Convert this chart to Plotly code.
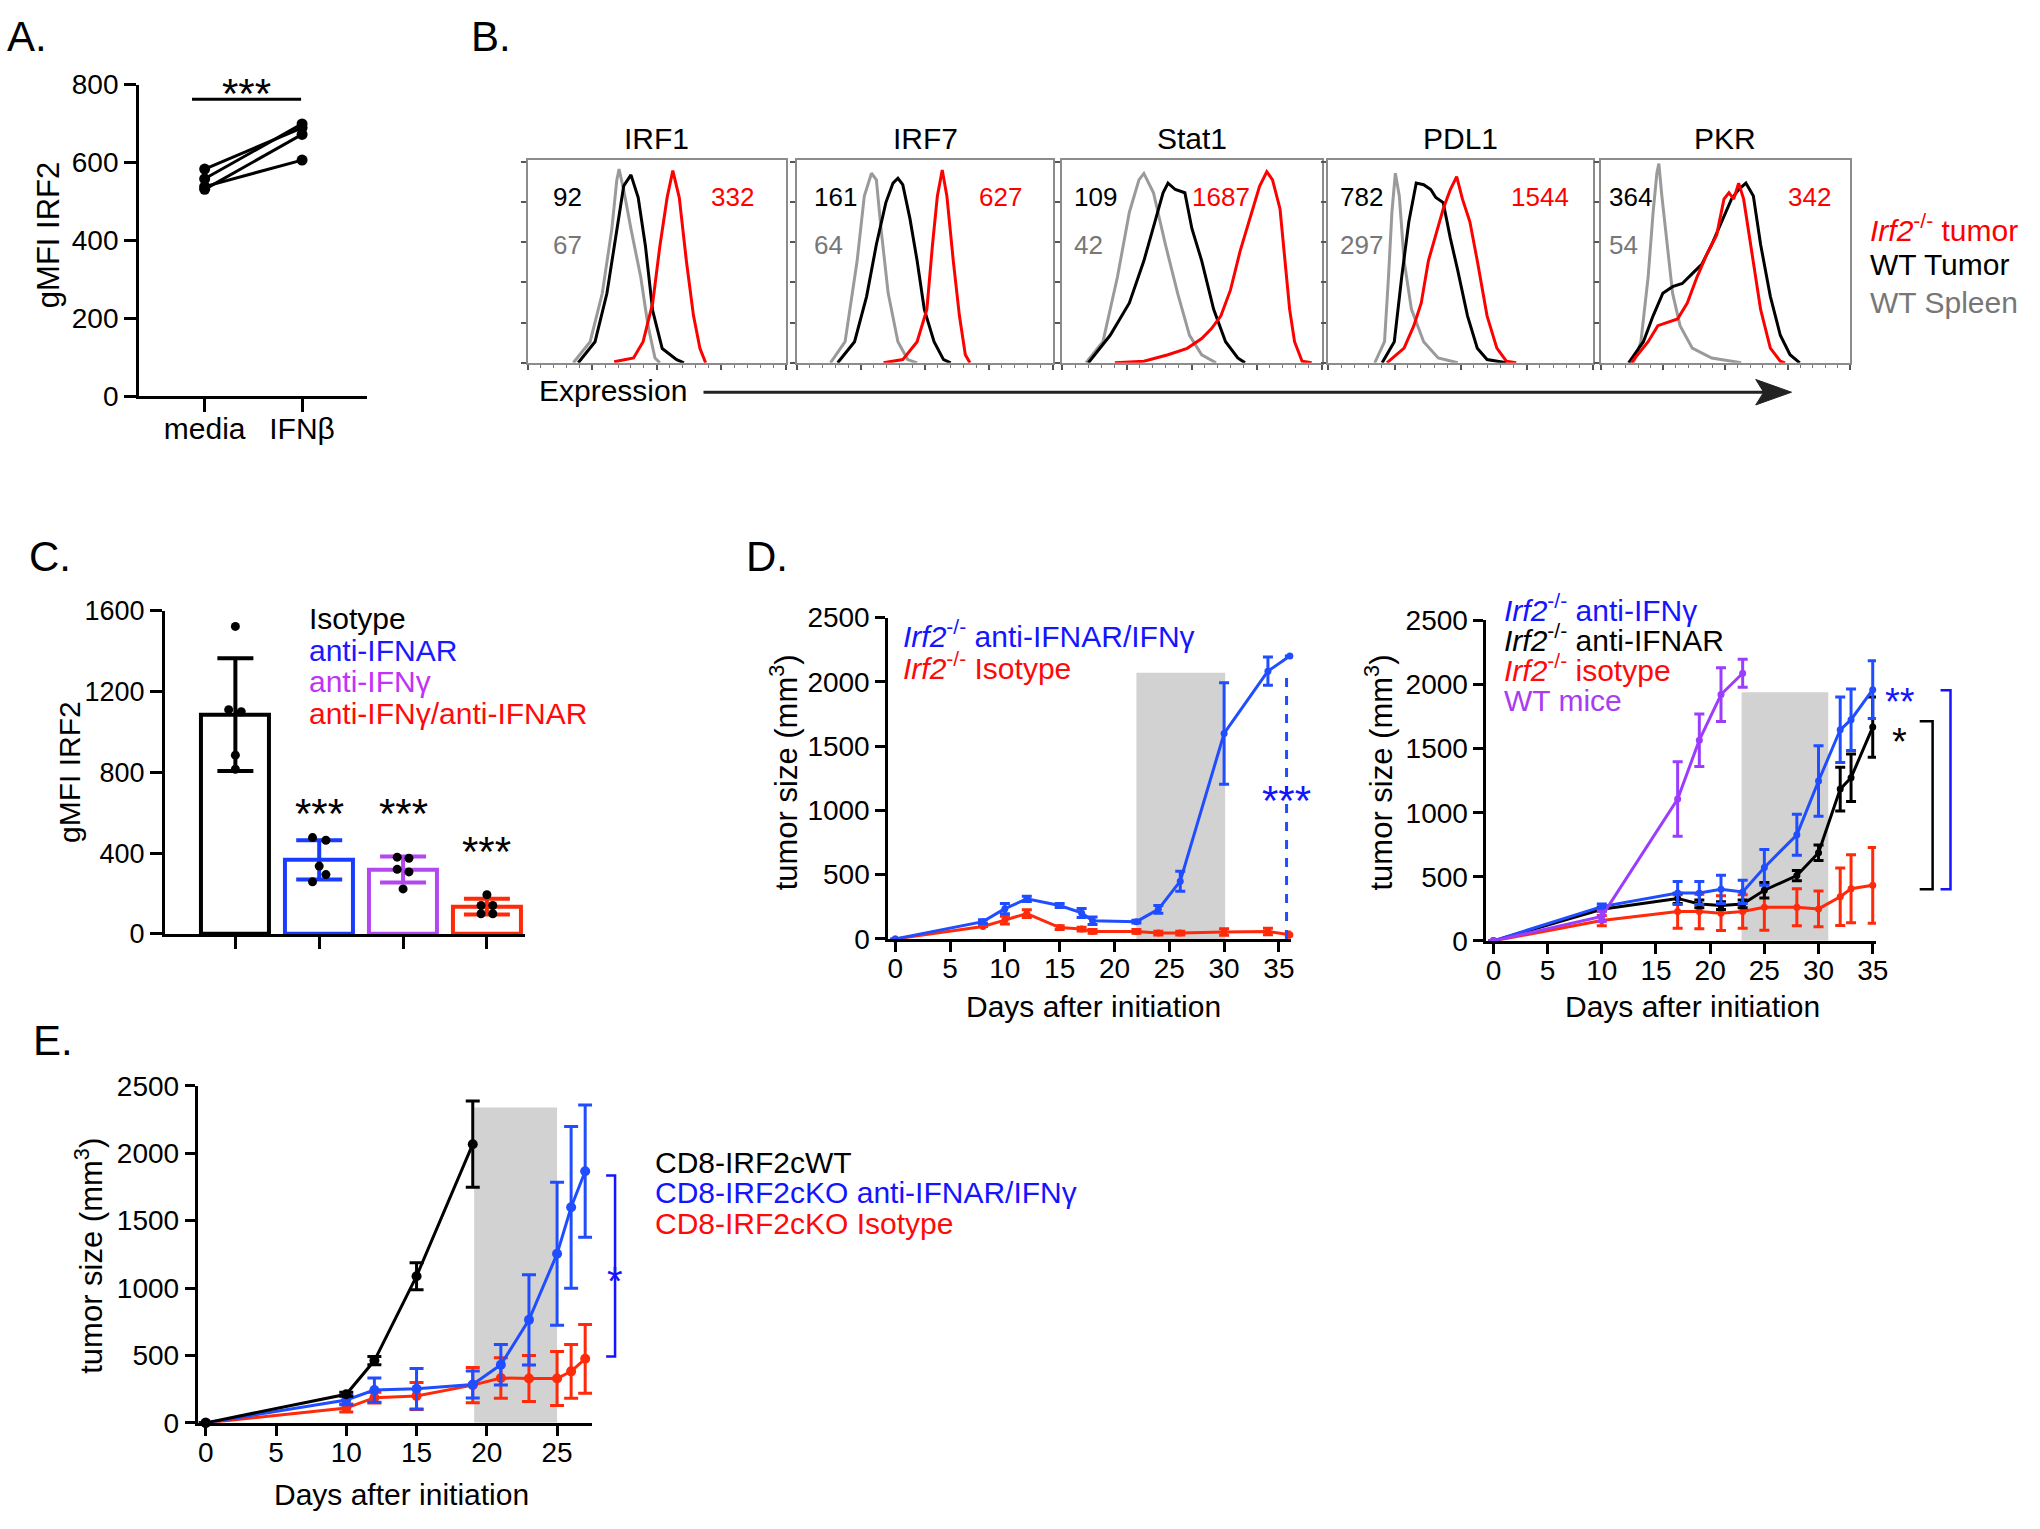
import plotly.graph_objects as go

W, H = 2040, 1529
FONT = "Arial, 'Liberation Sans', Helvetica, sans-serif"

# ======================= DATA =======================
# Panel A
a_categories = ["media", "IFNβ"]
a_media = [583, 558, 538, 531]
a_ifnb = [689, 699, 606, 672]

# Panel B (flow histograms: x = log channel 0-100, y = % of max)
hist_titles = ["IRF1", "IRF7", "Stat1", "PDL1", "PKR"]
mfi_irf2ko = [332, 627, 1687, 1544, 342]
mfi_wt_tumor = [92, 161, 109, 782, 364]
mfi_wt_spleen = [67, 64, 42, 297, 54]

irf1_spleen_x = [17.7, 24.2, 28.9, 32.6, 34.5, 35.4, 37.2, 40.0, 43.8, 46.6, 49.3, 51.2]
irf1_spleen_y = [0, 10.5, 34.6, 66.7, 90.8, 96.5, 86.0, 66.7, 42.6, 18.5, 2.4, 0]
irf1_tumor_x = [19.6, 26.1, 30.7, 34.5, 37.2, 40.0, 42.8, 45.6, 48.4, 52.1, 57.7, 60.5]
irf1_tumor_y = [0, 10.5, 34.6, 66.7, 88.1, 93.6, 82.3, 58.2, 26.0, 7.1, 1.6, 0]
irf1_ko_x = [33.5, 41.0, 44.7, 48.4, 51.2, 54.0, 56.2, 58.7, 61.5, 64.2, 66.7, 68.9]
irf1_ko_y = [0.5, 2.4, 10.5, 29.7, 58.2, 82.3, 95.7, 82.3, 50.2, 23.5, 7.2, 0]

irf7_spleen_x = [13.1, 18.8, 23.5, 26.3, 29.1, 31.0, 32.8, 35.6, 39.4, 43.2, 46.9]
irf7_spleen_y = [0, 10.5, 50.8, 83.1, 94.4, 91.1, 66.9, 34.7, 10.5, 1.6, 0]
irf7_tumor_x = [15.9, 22.5, 27.2, 31.0, 34.7, 37.5, 39.4, 41.3, 44.1, 46.9, 49.7, 53.5, 57.2, 60.0]
irf7_tumor_y = [0, 10.5, 33.1, 58.9, 79.8, 89.5, 91.9, 88.7, 71.8, 50.8, 26.6, 10.5, 1.6, 0]
irf7_ko_x = [33.8, 41.3, 46.9, 50.7, 52.9, 54.8, 56.7, 58.5, 61.0, 63.4, 65.7, 67.5]
irf7_ko_y = [0, 1.6, 10.5, 26.6, 58.9, 83.1, 96.0, 83.1, 50.8, 23.4, 4.0, 0]

stat1_spleen_x = [9.2, 15.7, 21.3, 25.9, 29.6, 31.5, 35.2, 39.8, 44.5, 49.1, 53.8, 59.3]
stat1_spleen_y = [0, 10.5, 42.7, 75.0, 91.1, 94.3, 84.7, 58.9, 34.7, 13.7, 4.0, 0]
stat1_tumor_x = [10.1, 18.5, 25.9, 31.5, 36.1, 38.9, 40.8, 43.6, 47.3, 50.0, 53.8, 58.4, 63.0, 67.7, 70.5]
stat1_tumor_y = [0, 13.7, 29.8, 50.8, 71.8, 84.7, 89.5, 86.3, 84.7, 66.9, 50.8, 26.6, 10.5, 2.4, 0]
stat1_ko_x = [20.3, 31.5, 40.8, 48.2, 53.8, 57.5, 61.2, 64.9, 68.6, 72.3, 76.1, 78.9, 81.1, 84.0, 85.9, 87.7, 89.6, 92.5, 96.2]
stat1_ko_y = [0, 0.8, 4.0, 7.2, 12.1, 16.9, 23.4, 36.3, 55.6, 71.8, 87.9, 95.2, 91.1, 76.6, 50.8, 26.6, 10.5, 0.8, 0]

pdl1_spleen_x = [17.5, 21.2, 22.7, 24.0, 25.3, 26.8, 28.6, 31.4, 36.0, 41.5, 48.9]
pdl1_spleen_y = [0, 10.5, 42.7, 75.0, 94.4, 83.1, 50.8, 26.6, 10.5, 2.4, 0]
pdl1_tumor_x = [20.3, 24.9, 27.7, 30.4, 33.2, 36.0, 38.7, 40.6, 43.4, 46.1, 48.9, 52.6, 56.3, 60.0, 67.3]
pdl1_tumor_y = [0, 10.5, 42.7, 70.2, 89.5, 88.7, 86.3, 82.3, 79.8, 62.1, 46.0, 23.4, 7.3, 1.6, 0]
pdl1_ko_x = [22.1, 28.6, 32.3, 35.1, 37.8, 40.6, 43.4, 46.1, 48.5, 50.7, 53.5, 56.3, 60.0, 63.7, 67.3, 71.0]
pdl1_ko_y = [0, 7.3, 18.5, 29.8, 50.8, 63.7, 76.6, 86.3, 92.7, 81.5, 70.2, 50.8, 23.4, 7.3, 0.8, 0]

pkr_spleen_x = [13.1, 16.1, 19.0, 21.0, 22.5, 23.3, 24.5, 26.5, 28.8, 31.8, 36.7, 44.5, 56.3]
pkr_spleen_y = [0, 10.5, 42.7, 75.0, 94.4, 99.2, 83.1, 58.9, 34.7, 18.5, 7.3, 2.4, 0]
pkr_tumor_x = [11.2, 17.1, 21.0, 24.9, 28.8, 32.7, 36.7, 40.6, 44.5, 48.4, 52.4, 55.3, 58.2, 61.2, 64.1, 68.0, 72.0, 75.9, 79.8]
pkr_tumor_y = [0, 10.5, 23.4, 34.7, 37.9, 39.5, 44.4, 49.2, 58.9, 70.2, 81.5, 86.3, 89.5, 83.1, 58.9, 33.1, 13.7, 4.0, 0]
pkr_ko_x = [12.2, 19.0, 22.9, 26.9, 30.8, 34.7, 38.6, 42.5, 46.5, 49.4, 51.4, 53.3, 55.3, 57.3, 60.2, 64.1, 68.0, 72.0, 73.9]
pkr_ko_y = [0, 10.5, 18.5, 20.2, 21.8, 29.8, 42.7, 54.0, 63.7, 81.5, 84.7, 81.5, 89.5, 81.5, 58.9, 26.6, 7.3, 0.8, 0]

# Panel C
c_groups = ["Isotype", "anti-IFNAR", "anti-IFNγ", "anti-IFNγ/anti-IFNAR"]
c_means = [1086, 367, 319, 135]
c_sd = [279, 97, 64, 39]
c_pts_isotype = [1522, 1110, 1100, 885, 815]
c_pts_ifnar = [477, 464, 336, 294, 258]
c_pts_ifng = [380, 375, 320, 307, 223]
c_pts_both = [194, 141, 141, 100, 100]

# Panel D (left)
d1_days = [0, 8, 10, 12, 15, 17, 18, 22, 24, 26, 30, 34, 36]
d1_block = [0, 134, 235, 311, 260, 202, 141, 134, 230, 449, 1598, 2083, 2200]
d1_block_err = [0, 15, 40, 20, 15, 35, 30, 10, 30, 78, 395, 110, 0]
d1_iso = [0, 96, 146, 197, 88, 76, 58, 58, 45, 45, 53, 58, 33]
d1_iso_err = [0, 0, 30, 30, 15, 15, 15, 15, 15, 15, 25, 25, 20]
d1_window = [22.0, 30.1]
d1_window_top = 2070

# Panel D (right)
d2_days = [0, 10, 17, 19, 21, 23, 25, 28, 30, 32, 33, 35]
d2_ifng = [0, 267, 374, 374, 402, 382, 573, 827, 1247, 1647, 1726, 1960]
d2_ifng_err = [0, 20, 90, 90, 110, 90, 140, 160, 275, 255, 240, 225]
d2_ifnar = [0, 247, 331, 288, 275, 288, 395, 509, 687, 1184, 1273, 1668]
d2_ifnar_err = [0, 15, 40, 30, 30, 30, 60, 40, 60, 170, 185, 235]
d2_iso = [0, 158, 229, 229, 216, 229, 262, 262, 249, 344, 407, 433]
d2_iso_err = [0, 40, 130, 135, 135, 130, 180, 145, 140, 225, 265, 295]
d2_wt_days = [0, 10, 17, 19, 21, 23]
d2_wt = [0, 191, 1107, 1566, 1922, 2088]
d2_wt_err = [0, 40, 290, 205, 210, 110]
d2_window = [22.9, 30.9]
d2_window_top = 1940

# Panel E
e_wt_days = [0, 10, 12, 15, 19]
e_wt = [0, 212, 462, 1088, 2067]
e_wt_err = [0, 15, 30, 100, 320]
e_ko_days = [0, 10, 12, 15, 19, 21, 23, 25, 26, 27]
e_ko_block = [0, 170, 243, 253, 285, 431, 764, 1254, 1599, 1867]
e_ko_block_err = [0, 35, 90, 150, 100, 150, 335, 530, 600, 490]
e_ko_iso = [0, 110, 187, 200, 280, 333, 329, 329, 382, 475]
e_ko_iso_err = [0, 30, 40, 100, 130, 150, 170, 200, 200, 255]
e_window = [19.1, 25.0]
e_window_top = 2340

# ======================= STYLE / LAYOUT =======================
BLUE = "#1f4dff"
BLUE_TXT = "#1414ff"
RED = "#ff2a0a"
RED_TXT = "#ff0a0a"
PURPLE_LINE = "#9b3cff"
PURPLE_BAR = "#b347f0"
PURPLE_TXT = "#a93cf0"
SHADE = "#d2d2d2"
HGRAY = "#9a9a9a"
NGRAY = "#777777"

# axis boxes in pixels: x0, x1, ytop, ybot, xrange, yrange
geo = {
    1: dict(x0=139, x1=368, ytop=71, ybot=389, xr=[-0.673, 1.663], yr=[0, 800]),
    2: dict(x0=530, x1=790, ytop=148, ybot=355, xr=[0, 100], yr=[0, 101]),
    3: dict(x0=801, x1=1059, ytop=148, ybot=355, xr=[0, 100], yr=[0, 101]),
    4: dict(x0=1068, x1=1329, ytop=148, ybot=355, xr=[0, 100], yr=[0, 101]),
    5: dict(x0=1336, x1=1602, ytop=148, ybot=355, xr=[0, 100], yr=[0, 101]),
    6: dict(x0=1610, x1=1861, ytop=148, ybot=355, xr=[0, 100], yr=[0, 101]),
    7: dict(x0=165, x1=527, ytop=608, ybot=938, xr=[-0.84, 3.45], yr=[0, 1600]),
    8: dict(x0=893, x1=1298, ytop=615, ybot=943, xr=[-0.635, 36.08], yr=[0, 2500]),
    9: dict(x0=1495, x1=1887, ytop=618, ybot=945, xr=[-0.64, 35.3], yr=[0, 2500]),
    10: dict(x0=198, x1=595, ytop=1093, ybot=1437, xr=[-0.57, 27.5], yr=[0, 2500]),
}


def sfx(n):
    return "" if n == 1 else str(n)


def px_x(n, v):
    g = geo[n]
    return g["x0"] + (v - g["xr"][0]) / (g["xr"][1] - g["xr"][0]) * (g["x1"] - g["x0"])


def px_y(n, v):
    g = geo[n]
    return g["ybot"] - (v - g["yr"][0]) / (g["yr"][1] - g["yr"][0]) * (g["ybot"] - g["ytop"])


def PX(p):
    return p / W


def PY(p):
    return 1 - p / H


layout = dict(
    width=W, height=H, autosize=False,
    margin=dict(l=0, r=0, t=0, b=0, pad=0),
    paper_bgcolor="white", plot_bgcolor="white",
    showlegend=False, hovermode=False,
    font=dict(family=FONT, color="black", size=26),
)

std_axis = dict(showline=True, linewidth=3, linecolor="black", ticks="outside",
                ticklen=12, tickwidth=3, tickcolor="black", showgrid=False,
                zeroline=False, tickfont=dict(family=FONT, size=28, color="black"))

for n, g in geo.items():
    s = sfx(n)
    xa = dict(domain=[PX(g["x0"]), PX(g["x1"])], range=g["xr"], anchor="y" + s,
              fixedrange=True)
    ya = dict(domain=[PY(g["ybot"]), PY(g["ytop"])], range=g["yr"], anchor="x" + s,
              fixedrange=True)
    if 2 <= n <= 6:
        hist = dict(showline=True, mirror=True, linewidth=2, linecolor="#8c8c8c",
                    ticks="outside", ticklen=5, tickwidth=1.5, tickcolor="#555",
                    showgrid=False, zeroline=False, showticklabels=False)
        xa.update(hist, dtick=25, tick0=0,
                  minor=dict(ticks="outside", ticklen=3, dtick=5, tickcolor="#777", tickwidth=1))
        ya.update(hist, dtick=20, tick0=0)
    else:
        xa.update(std_axis)
        ya.update(std_axis)
    layout["xaxis" + s] = xa
    layout["yaxis" + s] = ya

# Panel A axes
layout["xaxis"].update(tickvals=[0, 1], ticktext=a_categories, ticklen=13,
                       tickfont=dict(family=FONT, size=30, color="black"), ticklabelstandoff=-9)
layout["yaxis"].update(tickvals=[0, 200, 400, 600, 800])
# Panel C axes
layout["xaxis7"].update(tickvals=[0, 1, 2, 3], showticklabels=False, ticklen=12)
layout["yaxis7"].update(tickvals=[0, 400, 800, 1200, 1600], tickfont=dict(family=FONT, size=27, color="black"))
# D/E axes
for n in (8, 9, 10):
    s = sfx(n)
    layout["xaxis" + s].update(tick0=0, dtick=5, ticklen=10, ticklabelstandoff=-7)
    layout["yaxis" + s].update(tickvals=[0, 500, 1000, 1500, 2000, 2500], ticklen=10)
layout["xaxis8"]["tickvals"] = [0, 5, 10, 15, 20, 25, 30, 35]
layout["xaxis9"]["tickvals"] = [0, 5, 10, 15, 20, 25, 30, 35]
layout["xaxis10"]["tickvals"] = [0, 5, 10, 15, 20, 25]

fig = go.Figure()
annotations = []
shapes = []


def text(px, py, t, size=27, color="black", xa="left", ya="middle", angle=0):
    annotations.append(dict(x=PX(px), y=PY(py), xref="paper", yref="paper", text=t,
                            showarrow=False, xanchor=xa, yanchor=ya, textangle=angle,
                            font=dict(family=FONT, size=size, color=color)))


def axes_of(n):
    s = sfx(n)
    return dict(xaxis="x" + s, yaxis="y" + s)


# ---------------- Panel A ----------------
for m, i in zip(a_media, a_ifnb):
    fig.add_trace(go.Scatter(x=[0, 1], y=[m, i], mode="lines+markers",
                             line=dict(color="black", width=3),
                             marker=dict(color="black", size=11),
                             cliponaxis=False, **axes_of(1)))
shapes.append(dict(type="line", xref="x", yref="y", x0=-0.13, x1=0.99, y0=762, y1=762,
                   line=dict(color="black", width=3)))
text(px_x(1, 0.43), 80, "***", size=42, xa="center")
text(48, 225, "gMFI IRF2", size=31, xa="center", angle=-90)
text(4, 22, "A.", size=42)

# ---------------- Panel B ----------------
hist_curves = [
    [(irf1_spleen_x, irf1_spleen_y), (irf1_tumor_x, irf1_tumor_y), (irf1_ko_x, irf1_ko_y)],
    [(irf7_spleen_x, irf7_spleen_y), (irf7_tumor_x, irf7_tumor_y), (irf7_ko_x, irf7_ko_y)],
    [(stat1_spleen_x, stat1_spleen_y), (stat1_tumor_x, stat1_tumor_y), (stat1_ko_x, stat1_ko_y)],
    [(pdl1_spleen_x, pdl1_spleen_y), (pdl1_tumor_x, pdl1_tumor_y), (pdl1_ko_x, pdl1_ko_y)],
    [(pkr_spleen_x, pkr_spleen_y), (pkr_tumor_x, pkr_tumor_y), (pkr_ko_x, pkr_ko_y)],
]
hist_colors = [HGRAY, "black", "#ff0000"]
black_num_left = [554, 816, 1078, 1346, 1616]
red_num_right = [760, 1030, 1259, 1580, 1844]
for k in range(5):
    n = k + 2
    for (xs, ys), col in zip(hist_curves[k], hist_colors):
        fig.add_trace(go.Scatter(x=xs, y=ys, mode="lines", line=dict(color=col, width=3),
                                 **axes_of(n)))
    g = geo[n]
    text((g["x0"] + g["x1"]) / 2, 126, hist_titles[k], size=30, xa="center")
    text(black_num_left[k], 186, str(mfi_wt_tumor[k]), size=26)
    text(black_num_left[k], 235, str(mfi_wt_spleen[k]), size=26, color=NGRAY)
    text(red_num_right[k], 186, str(mfi_irf2ko[k]), size=26, color="#ff0000", xa="right")

text(1879, 217, "<i>Irf2</i><sup>-/-</sup> tumor", size=30, color="#ff0000")
text(1879, 255, "WT Tumor", size=30)
text(1879, 293, "WT Spleen", size=30, color=NGRAY)
text(539, 383, "Expression", size=30)
text(471, 22, "B.", size=42)
shapes.append(dict(type="line", xref="paper", yref="paper", x0=PX(707), x1=PX(1785),
                   y0=PY(385), y1=PY(385), line=dict(color="#222", width=3)))
shapes.append(dict(type="path", xref="paper", yref="paper",
                   path=f"M {PX(1802)},{PY(385)} L {PX(1766)},{PY(372)} L {PX(1774)},{PY(385)} L {PX(1766)},{PY(398)} Z",
                   fillcolor="#222", line=dict(color="#222", width=1)))

# ---------------- Panel C ----------------
c_colors = ["black", "#1a3cff", PURPLE_BAR, "#ff2a0a"]
c_caps = [18, 23, 23, 23]
c_points = [c_pts_isotype, c_pts_ifnar, c_pts_ifng, c_pts_both]
c_jitter = [[0, -0.08, 0.07, 0, 0], [-0.08, 0.08, 0, 0.08, -0.08],
            [-0.07, 0.07, -0.07, 0.07, 0], [0, -0.07, 0.07, -0.07, 0.07]]
for i in range(4):
    fig.add_trace(go.Bar(x=[i], y=[c_means[i]], width=0.81,
                         marker=dict(color="white", line=dict(color=c_colors[i], width=4)),
                         error_y=dict(type="data", array=[c_sd[i]], color=c_colors[i],
                                      thickness=4, width=c_caps[i]),
                         **axes_of(7)))
for i in range(4):
    fig.add_trace(go.Scatter(x=[i + j for j in c_jitter[i]], y=c_points[i], mode="markers",
                             marker=dict(color="black", size=9), cliponaxis=False,
                             **axes_of(7)))
text(px_x(7, 1), 815, "***", size=42, xa="center")
text(px_x(7, 2), 815, "***", size=42, xa="center")
text(px_x(7, 3), 854, "***", size=42, xa="center")
c_text_colors = ["black", "#1a1aff", "#c032f5", "#ff0a0a"]
for i, (lab, col) in enumerate(zip(c_groups, c_text_colors)):
    text(308, 616 + i * 32.3, lab, size=30, color=col)
text(69, 773, "gMFI IRF2", size=30, xa="center", angle=-90)
text(26, 553, "C.", size=42)

# ---------------- Panel D left ----------------
shapes.append(dict(type="rect", xref="x8", yref="y8", x0=d1_window[0], x1=d1_window[1],
                   y0=0, y1=d1_window_top, fillcolor=SHADE, line=dict(width=0), layer="below"))
fig.add_trace(go.Scatter(x=d1_days, y=d1_iso, mode="lines+markers",
                         line=dict(color=RED, width=3), marker=dict(color=RED, size=7),
                         error_y=dict(type="data", array=d1_iso_err, color=RED, thickness=3, width=5),
                         cliponaxis=False, **axes_of(8)))
fig.add_trace(go.Scatter(x=d1_days, y=d1_block, mode="lines+markers",
                         line=dict(color=BLUE, width=3), marker=dict(color=BLUE, size=7),
                         error_y=dict(type="data", array=d1_block_err, color=BLUE, thickness=3, width=5),
                         cliponaxis=False, **axes_of(8)))
shapes.append(dict(type="line", xref="x8", yref="y8", x0=35.7, x1=35.7, y0=0, y1=2100,
                   line=dict(color=BLUE, width=3, dash="dash")))
text(px_x(8, 35.7), 802, "***", size=42, color=BLUE_TXT, xa="center")
text(906, 632, "<i>Irf2</i><sup>-/-</sup> anti-IFNAR/IFNγ", size=30, color=BLUE_TXT)
text(906, 664, "<i>Irf2</i><sup>-/-</sup> Isotype", size=30, color=RED_TXT)
text(788, 773, "tumor size (mm<sup>3</sup>)", size=31, xa="center", angle=-90)
text(1100, 1012, "Days after initiation", size=30, xa="center")
text(748, 553, "D.", size=42)

# ---------------- Panel D right ----------------
shapes.append(dict(type="rect", xref="x9", yref="y9", x0=d2_window[0], x1=d2_window[1],
                   y0=0, y1=d2_window_top, fillcolor=SHADE, line=dict(width=0), layer="below"))
for ys, errs, col, xs in [(d2_iso, d2_iso_err, RED, d2_days),
                          (d2_ifnar, d2_ifnar_err, "black", d2_days),
                          (d2_ifng, d2_ifng_err, BLUE, d2_days),
                          (d2_wt, d2_wt_err, PURPLE_LINE, d2_wt_days)]:
    fig.add_trace(go.Scatter(x=xs, y=ys, mode="lines+markers",
                             line=dict(color=col, width=3), marker=dict(color=col, size=7),
                             error_y=dict(type="data", array=errs, color=col, thickness=3, width=5),
                             cliponaxis=False, **axes_of(9)))


def bracket(x_px, top_px, bot_px, arm, color, width=2.5):
    shapes.append(dict(type="path", xref="paper", yref="paper",
                       path=(f"M {PX(x_px - arm)},{PY(top_px)} L {PX(x_px)},{PY(top_px)} "
                             f"L {PX(x_px)},{PY(bot_px)} L {PX(x_px - arm)},{PY(bot_px)}"),
                       line=dict(color=color, width=width)))


bracket(1944, px_y(9, 1713), px_y(9, 402), 13, "black")
bracket(1962, px_y(9, 1955), px_y(9, 402), 10, BLUE_TXT)
text(1911, 742, "*", size=38, xa="center")
text(1911, 701, "**", size=38, color=BLUE_TXT, xa="center")
text(1511, 605, "<i>Irf2</i><sup>-/-</sup> anti-IFNγ", size=30, color=BLUE_TXT)
text(1511, 636, "<i>Irf2</i><sup>-/-</sup> anti-IFNAR", size=30)
text(1511, 667, "<i>Irf2</i><sup>-/-</sup> isotype", size=30, color=RED_TXT)
text(1511, 700, "WT mice", size=30, color=PURPLE_TXT)
text(1387, 773, "tumor size (mm<sup>3</sup>)", size=31, xa="center", angle=-90)
text(1702, 1012, "Days after initiation", size=30, xa="center")

# ---------------- Panel E ----------------
shapes.append(dict(type="rect", xref="x10", yref="y10", x0=e_window[0], x1=e_window[1],
                   y0=0, y1=e_window_top, fillcolor=SHADE, line=dict(width=0), layer="below"))
for xs, ys, errs, col in [(e_ko_days, e_ko_iso, e_ko_iso_err, RED),
                          (e_ko_days, e_ko_block, e_ko_block_err, BLUE),
                          (e_wt_days, e_wt, e_wt_err, "black")]:
    fig.add_trace(go.Scatter(x=xs, y=ys, mode="lines+markers",
                             line=dict(color=col, width=3), marker=dict(color=col, size=10),
                             error_y=dict(type="data", array=errs, color=col, thickness=3, width=7),
                             cliponaxis=False, **axes_of(10)))
bracket(618, px_y(10, 1835), px_y(10, 492), 9, BLUE_TXT)
text(618, 1292, "*", size=40, color=BLUE_TXT, xa="center")
text(656, 1171, "CD8-IRF2cWT", size=30)
text(656, 1202, "CD8-IRF2cKO anti-IFNAR/IFNγ", size=30, color=BLUE_TXT)
text(656, 1233, "CD8-IRF2cKO Isotype", size=30, color=RED_TXT)
text(89, 1266, "tumor size (mm<sup>3</sup>)", size=31, xa="center", angle=-90)
text(403, 1510, "Days after initiation", size=30, xa="center")
text(30, 1047, "E.", size=42)

layout["annotations"] = annotations
layout["shapes"] = shapes
layout["bargap"] = 0
fig.update_layout(**layout)
fig.write_html("out.html", config={"displayModeBar": False},
               post_script="document.body.style.margin='0px';")
